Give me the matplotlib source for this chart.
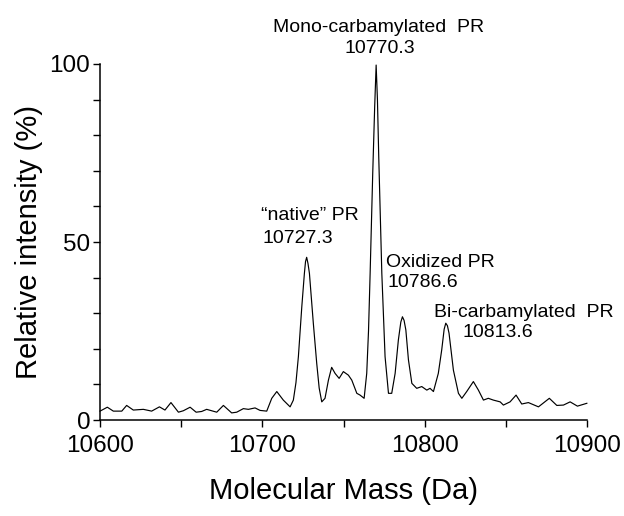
import matplotlib
matplotlib.use("Agg")
import matplotlib.pyplot as plt
from matplotlib.ticker import MultipleLocator

plt.rcParams["font.family"] = ["Liberation Sans", "DejaVu Sans"]

# ── Spectrum trace (mass in Da, intensity in %) ──
MASS = [
    10600.0, 10604.5, 10608.2, 10613.4, 10616.4, 10620.5, 10626.7, 10631.8,
    10636.6, 10640.0, 10643.7, 10648.3, 10651.3, 10655.5, 10659.2, 10662.6,
    10665.7, 10671.9, 10676.0, 10681.1, 10684.2, 10688.3, 10691.4, 10695.5,
    10698.6, 10702.7, 10705.8, 10708.9, 10712.9, 10717.1, 10719.1, 10720.7,
    10722.2, 10724.3, 10725.9, 10726.6, 10727.3, 10728.1, 10729.0, 10731.4,
    10733.5, 10735.0, 10736.6, 10738.6, 10740.7, 10742.7, 10744.8, 10747.3,
    10749.9, 10753.0, 10755.1, 10758.2, 10760.2, 10762.7, 10764.3, 10765.4,
    10766.4, 10768.0, 10769.2, 10770.1, 10770.9, 10771.7, 10773.6, 10775.6,
    10777.7, 10779.7, 10781.8, 10783.8, 10785.3, 10786.3, 10787.3, 10788.4,
    10790.0, 10792.1, 10795.1, 10798.2, 10801.3, 10803.3, 10805.4, 10808.4,
    10810.5, 10812.0, 10813.0, 10814.0, 10815.0, 10817.7, 10820.8, 10822.9,
    10825.9, 10830.0, 10833.1, 10836.2, 10839.2, 10842.3, 10846.5, 10848.5,
    10852.6, 10856.3, 10859.8, 10863.9, 10870.1, 10876.8, 10881.4, 10885.5,
    10889.6, 10894.1, 10899.9,
]
INTENSITY = [
    2.5, 3.6, 2.5, 2.5, 4.1, 2.8, 3.0, 2.5,
    3.7, 2.8, 4.9, 2.2, 2.6, 3.6, 2.2, 2.4,
    3.0, 2.2, 4.1, 2.0, 2.2, 3.2, 3.0, 3.4,
    2.7, 2.5, 6.1, 8.0, 5.6, 3.7, 5.6, 10.5,
    17.8, 31.8, 41.2, 44.5, 45.7, 44.0, 41.2, 27.2,
    15.9, 9.0, 5.1, 6.1, 11.2, 14.8, 13.1, 11.7,
    13.6, 12.6, 11.2, 7.5, 7.0, 6.1, 13.1, 25.0,
    41.2, 69.3, 88.0, 99.7, 90.0, 74.0, 41.2, 17.8,
    7.5, 7.5, 13.1, 22.5, 27.5, 29.0, 28.0, 25.3,
    16.9, 10.3, 8.9, 9.4, 8.4, 8.9, 8.0, 13.1,
    19.7, 25.5, 27.2, 26.5, 24.4, 14.0, 7.5, 6.1,
    8.0, 10.8, 8.4, 5.6, 6.1, 5.6, 5.1, 4.2,
    5.1, 7.0, 4.5, 4.9, 3.7, 6.1, 4.1, 4.2,
    5.1, 3.9, 4.7,
]

# Peak annotations: (first line, second line)
PEAK_NAMES  = ["Mono-carbamylated  PR", "\u201cnative\u201d PR", "Oxidized PR", "Bi-carbamylated  PR"]
PEAK_MASSES = ["10770.3", "10727.3", "10786.6", "10813.6"]

fig = plt.figure(figsize=(6.24, 5.16), dpi=100)
ax = fig.add_axes([0.1603, 0.186, 0.7804, 0.690])

ax.plot(MASS, INTENSITY, color="black", linewidth=0.85, clip_on=False,
        solid_joinstyle="round")

ax.set_xlim(10600, 10900)
ax.set_ylim(0, 100)

ax.spines["top"].set_visible(False)
ax.spines["right"].set_visible(False)
ax.spines["left"].set_linewidth(1.1)
ax.spines["bottom"].set_linewidth(1.1)

ax.xaxis.set_major_locator(MultipleLocator(100))
ax.xaxis.set_minor_locator(MultipleLocator(50))
ax.yaxis.set_major_locator(MultipleLocator(50))
ax.yaxis.set_minor_locator(MultipleLocator(10))
ax.tick_params(which="both", direction="out", length=5, width=1.0, labelsize=17.5)
ax.tick_params(axis="x", pad=6)
ax.tick_params(axis="y", pad=2)

ax.set_xlabel("Molecular Mass (Da)", fontsize=21, labelpad=14)
ax.set_ylabel("Relative intensity (%)", fontsize=21, labelpad=5)

# ── Peak labels ──
fs = 14
txt = dict(fontsize=fs, va="baseline", annotation_clip=False)
ax.annotate(PEAK_NAMES[0], xy=(10771.7, 109.1), ha="center", **txt)
ax.annotate(PEAK_MASSES[0], xy=(10772.5, 103.2), ha="center", **txt)
ax.annotate(PEAK_NAMES[1], xy=(10699.4, 56.2), ha="left", **txt)
ax.annotate(PEAK_MASSES[1], xy=(10700.2, 49.6), ha="left", **txt)
ax.annotate(PEAK_NAMES[2], xy=(10776.2, 43.1), ha="left", **txt)
ax.annotate(PEAK_MASSES[2], xy=(10776.8, 37.3), ha="left", **txt)
ax.annotate(PEAK_NAMES[3], xy=(10806.0, 29.0), ha="left", **txt)
ax.annotate(PEAK_MASSES[3], xy=(10823.4, 23.4), ha="left", **txt)

fig.savefig("out.png", dpi=100)
plt.close(fig)
